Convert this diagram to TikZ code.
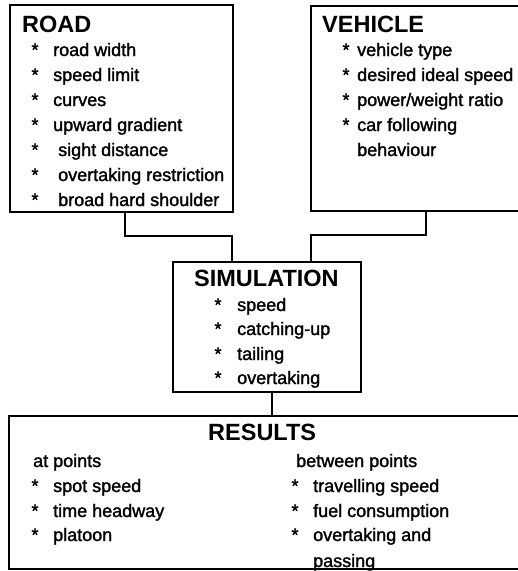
\documentclass[tikz,border=0pt]{standalone}
\usepackage{fontspec}
\setmainfont{Liberation Sans}
\newfontfamily\itemfont[FakeBold=1.6]{Liberation Sans}
\newcommand{\bitem}[5]{%
  \node[itm,anchor=base] (#1b) at (#2,#4) {*};
  \node[itm] (#1) at (#3,#4) {#5};}
\begin{document}
\begin{tikzpicture}[x=1pt,y=-1pt,
  box/.style={draw, line width=1.8pt, rectangle, inner sep=0pt},
  conn/.style={line width=1.8pt},
  ttl/.style={anchor=base west, inner sep=0pt, font=\fontsize{23.5}{24}\selectfont\bfseries},
  itm/.style={anchor=base west, inner sep=0pt, font=\itemfont\fontsize{18}{18}\selectfont}]
\clip (0,0) rectangle (518,571);
\fill[white] (0,0) rectangle (518,571);
% boxes
\node[box, minimum width=223pt, minimum height=207pt] (road) at (121.5,108.5) {};
\node[box, minimum width=229pt, minimum height=205pt] (vehicle) at (425.5,108.5) {};
\node[box, minimum width=188pt, minimum height=130pt] (sim) at (267,327) {};
\node[box, minimum width=531pt, minimum height=153pt] (res) at (274.5,492.5) {};
% connectors
\coordinate (rj) at (125,236);
\coordinate (vj) at (426,235);
\draw[conn] ([xshift=3.5pt]road.south) -- (rj) -| ([xshift=-35pt]sim.north);
\draw[conn] ([xshift=0.5pt]vehicle.south) -- (vj) -| ([xshift=44pt]sim.north);
\draw[conn] ([xshift=5pt]sim.south) -- ([xshift=5pt]sim.south |- res.north);
% ROAD
\node[ttl] (roadt) at (22,32) {ROAD};
\bitem{r1}{35}{53}{56}{road width}
\bitem{r2}{35}{53}{81}{speed limit}
\bitem{r3}{35}{53}{106}{curves}
\bitem{r4}{35}{53}{131}{upward gradient}
\bitem{r5}{35}{58}{156}{sight distance}
\bitem{r6}{35}{58}{181}{overtaking restriction}
\bitem{r7}{35}{58}{206}{broad hard shoulder}
% VEHICLE
\node[ttl] (veht) at (322,32) {VEHICLE};
\bitem{v1}{346}{357}{56}{vehicle type}
\bitem{v2}{346}{357}{81}{desired ideal speed}
\bitem{v3}{346}{357}{106}{power/weight ratio}
\bitem{v4}{346}{357}{131}{car following}
\node[itm] (v5) at (357,156) {behaviour};
% SIMULATION
\node[ttl] (simt) at (194,286) {SIMULATION};
\bitem{s1}{218}{237}{311}{speed}
\bitem{s2}{218}{237}{335}{catching-up}
\bitem{s3}{218}{237}{360}{tailing}
\bitem{s4}{218}{237}{384}{overtaking}
% RESULTS
\node[ttl] (rest) at (208,440) {RESULTS};
\node[itm] (atp) at (33,467) {at points};
\bitem{a1}{35}{53}{492}{spot speed}
\bitem{a2}{35}{53}{517}{time headway}
\bitem{a3}{35}{53}{541}{platoon}
\node[itm] (btp) at (296,467) {between points};
\bitem{b1}{295}{313}{492}{travelling speed}
\bitem{b2}{295}{313}{517}{fuel consumption}
\bitem{b3}{295}{313}{541}{overtaking and}
\node[itm] (b4) at (313,567) {passing};
\end{tikzpicture}
\end{document}
